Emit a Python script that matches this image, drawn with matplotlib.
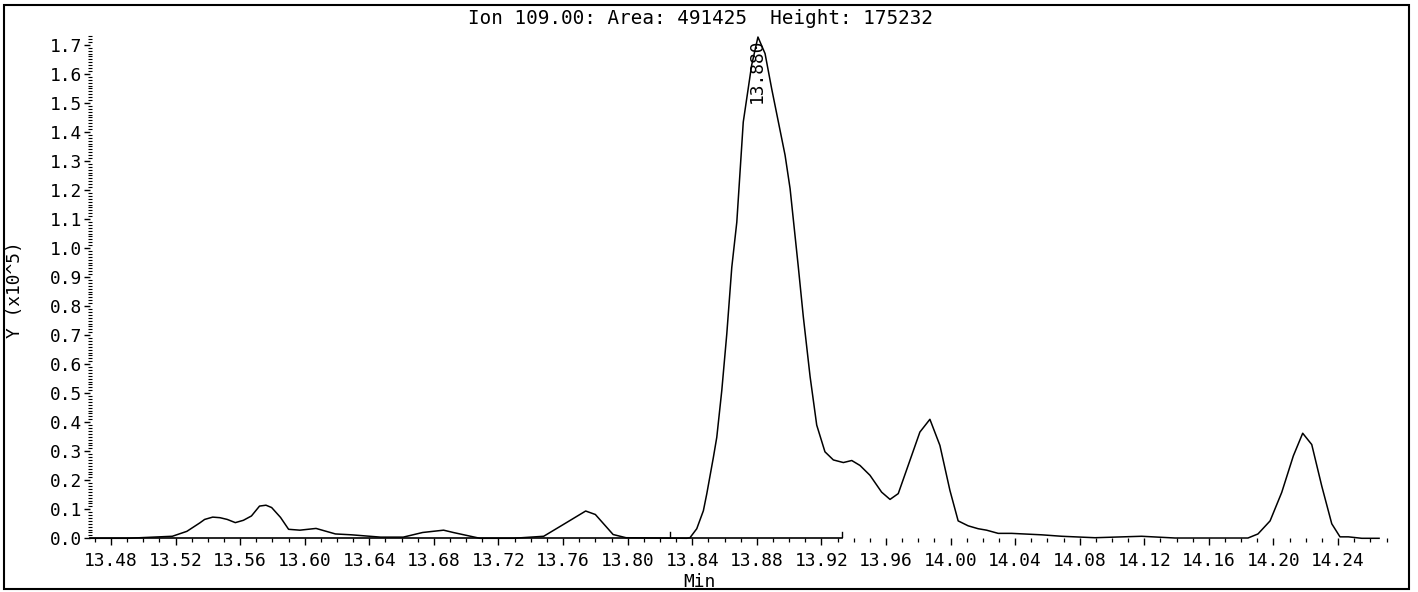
import matplotlib
matplotlib.use("Agg")
import matplotlib.pyplot as plt
from matplotlib.patches import Rectangle
from matplotlib.ticker import MultipleLocator, FormatStrFormatter
import numpy as np

plt.rcParams['font.family'] = ['DejaVu Sans Mono', 'DejaVu Sans']

# ---- data (retention time in minutes, abundance in x10^5) ----
time_min = [13.467, 13.490, 13.518, 13.527, 13.535, 13.538, 13.543, 13.5475, 13.552, 13.557,
            13.562, 13.567, 13.572, 13.576, 13.5795, 13.585, 13.590, 13.597, 13.607, 13.619,
            13.629, 13.647, 13.661, 13.673, 13.686, 13.692, 13.7085, 13.729, 13.748, 13.760,
            13.774, 13.780, 13.791, 13.799, 13.8366, 13.8386, 13.8428, 13.8469, 13.849, 13.8531,
            13.8552, 13.8583, 13.8614, 13.8645, 13.8676, 13.8716, 13.8768, 13.8807, 13.8851, 13.8892,
            13.8975, 13.9006, 13.9057, 13.9088, 13.913, 13.9171, 13.9222, 13.9274, 13.9336, 13.9388,
            13.9439, 13.9501, 13.9573, 13.9625, 13.9676, 13.9738, 13.981, 13.9872, 13.9934, 13.9996,
            14.0047, 14.0109, 14.0171, 14.0223, 14.0295, 14.0378, 14.0564, 14.0688, 14.0894, 14.1183,
            14.139, 14.1594, 14.1842, 14.1904, 14.1979, 14.2051, 14.2123, 14.2181, 14.2237, 14.2299,
            14.2361, 14.2412, 14.2464, 14.2547, 14.2654]
abundance = [0.0, 0.0, 0.007, 0.024, 0.053, 0.065, 0.073, 0.071, 0.065, 0.054,
             0.062, 0.077, 0.111, 0.114, 0.106, 0.072, 0.031, 0.028, 0.034, 0.015,
             0.012, 0.004, 0.004, 0.020, 0.028, 0.020, 0.0, 0.0, 0.007, 0.047,
             0.094, 0.082, 0.013, 0.002, 0.0, 0.002, 0.033, 0.095, 0.153, 0.279,
             0.348, 0.509, 0.704, 0.934, 1.089, 1.434, 1.630, 1.727, 1.670, 1.549,
             1.320, 1.205, 0.935, 0.763, 0.557, 0.390, 0.298, 0.270, 0.261, 0.268,
             0.251, 0.217, 0.159, 0.134, 0.154, 0.252, 0.366, 0.410, 0.320, 0.165,
             0.060, 0.043, 0.033, 0.028, 0.017, 0.017, 0.012, 0.007, 0.002, 0.007,
             0.001, 0.001, 0.001, 0.015, 0.060, 0.158, 0.284, 0.362, 0.323, 0.180,
             0.050, 0.005, 0.005, 0.0, 0.0]

xtick_values = [13.48, 13.52, 13.56, 13.60, 13.64, 13.68, 13.72, 13.76, 13.80, 13.84,
                13.88, 13.92, 13.96, 14.00, 14.04, 14.08, 14.12, 14.16, 14.20, 14.24]
ytick_values = [0.0, 0.1, 0.2, 0.3, 0.4, 0.5, 0.6, 0.7, 0.8, 0.9,
                1.0, 1.1, 1.2, 1.3, 1.4, 1.5, 1.6, 1.7]

title_text = "Ion 109.00: Area: 491425  Height: 175232"
peak_rt = 13.880
peak_label = "13.880"
integration_marks = [13.826, 13.933]

# ---- figure ----
W, H = 1418, 592
fig = plt.figure(figsize=(W / 100, H / 100), dpi=100)
fig.patch.set_facecolor('white')

ax_left, ax_right, ax_bottom, ax_top = 90, 1386.5, 538.3, 35
ax = fig.add_axes([ax_left / W, (H - ax_bottom) / H,
                   (ax_right - ax_left) / W, (ax_bottom - ax_top) / H])

ax.plot(time_min, abundance, color='black', lw=1.1, clip_on=False)

ax.set_xlim(13.467, 14.27)
ax.set_ylim(0, 1.734)

ax.set_xticks(xtick_values)
ax.xaxis.set_major_formatter(FormatStrFormatter('%.2f'))
ax.xaxis.set_minor_locator(MultipleLocator(0.01))
ax.set_yticks(ytick_values)
ax.yaxis.set_major_formatter(FormatStrFormatter('%.1f'))
ax.yaxis.set_minor_locator(MultipleLocator(0.01))

ax.tick_params(axis='x', which='major', direction='out', length=5, width=1.0,
               pad=5, labelsize=12.9)
ax.tick_params(axis='x', which='minor', direction='out', length=2.8, width=0.9)
ax.tick_params(axis='y', which='major', direction='out', length=4, width=1.0,
               pad=1.5, labelsize=12.9)
ax.tick_params(axis='y', which='minor', direction='inout', length=3, width=0.8)

for s in ['top', 'right', 'left']:
    ax.spines[s].set_visible(False)
ax.spines['bottom'].set_bounds(13.467, integration_marks[1])
ax.spines['bottom'].set_linewidth(1.2)

# integration markers
for m in integration_marks:
    ax.plot([m, m], [0, 0.02], color='black', lw=1.0)

# peak label
ax.text(peak_rt, 1.50, peak_label, rotation=90, ha='center', va='bottom',
        fontsize=12.9)

# title and axis labels
fig.text(701 / W, (H - 18) / H, title_text, ha='center', va='center', fontsize=13.9)
fig.text(699 / W, (H - 582) / H, "Min", ha='center', va='center', fontsize=12.9)
fig.text(15 / W, (H - 290) / H, "Y (x10^5)", rotation=90, ha='center', va='center',
         fontsize=12.9)

# outer frame
fig.patches.append(Rectangle((4 / W, 3 / H), (1409 - 4) / W, (589 - 5) / H,
                             transform=fig.transFigure, fill=False,
                             edgecolor='black', lw=1.5))

fig.savefig("out.png", dpi=100)
